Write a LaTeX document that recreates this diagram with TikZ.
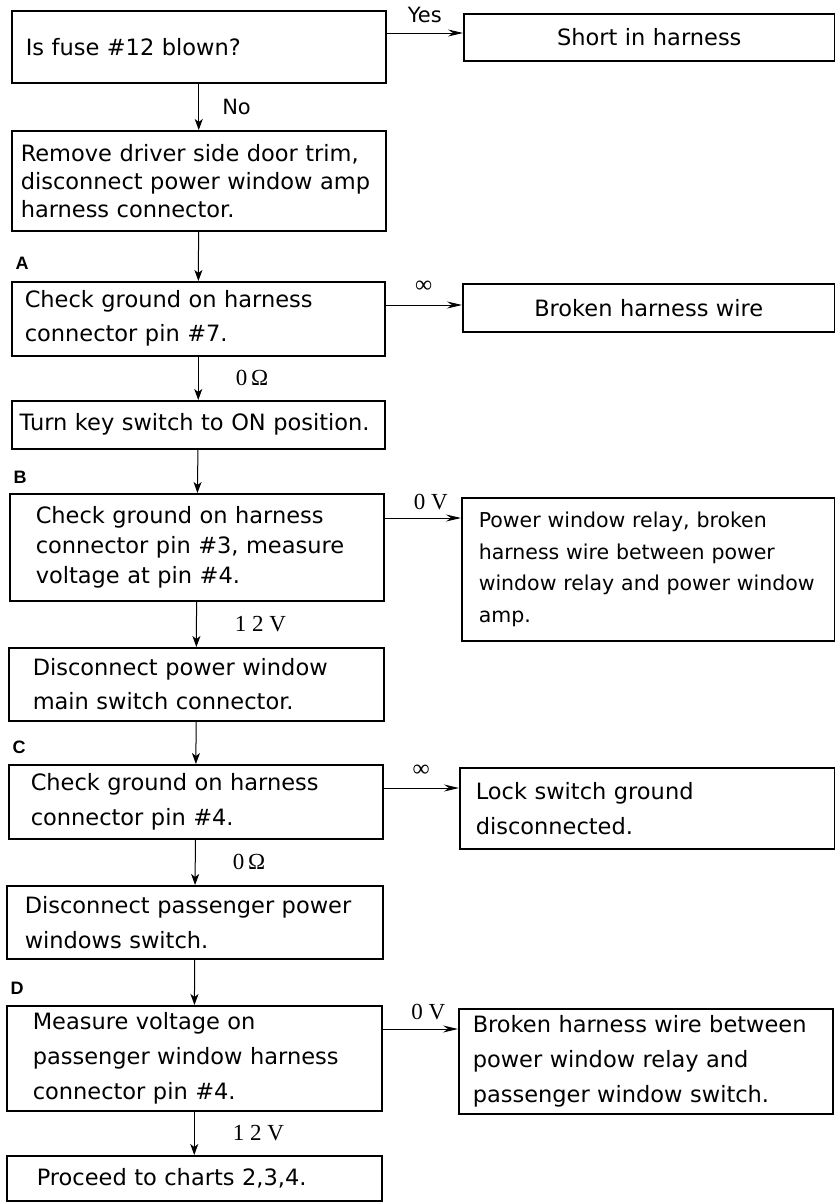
\documentclass[tikz,border=0pt]{standalone}
\usepackage{fontspec}
\setmainfont{DejaVu Sans}
\newfontfamily\valfont{Liberation Serif}
\newfontfamily\tagfont{Liberation Sans}
\usetikzlibrary{arrows.meta,positioning}
\newcommand{\boxfont}[1]{\fontsize{22.5}{#1}\selectfont}

\begin{document}
\begin{tikzpicture}[x=1pt, y=-1pt,
    box/.style={draw, line width=1.5pt, anchor=north west, align=left, inner ysep=0pt, font=\boxfont{#1}},
    box/.default=28,
    cbox/.style={box, align=center, inner xsep=4pt},
    arr/.style={-{Stealth[length=11pt,width=8pt,inset=3pt]}, line width=1pt},
    harr/.style={-{Stealth[length=15pt,width=7pt,inset=5pt]}, line width=1pt},
    ans/.style={inner sep=0pt, font=\fontsize{21}{24}\selectfont},
    val/.style={inner sep=0pt, font=\valfont\fontsize{23}{24}\selectfont},
    inf/.style={inner sep=0pt, font=\valfont\fontsize{24}{24}\selectfont},
    tag/.style={inner sep=0pt, font=\tagfont\bfseries\fontsize{18}{18}\selectfont}]
  \useasboundingbox (0,0) rectangle (835,1202);

  \node[box, inner xsep=14pt, text width=346pt, minimum height=72pt] (fuse) at (11,10) {Is fuse \#12 blown?};
  \node[cbox, text width=363pt, minimum height=47pt] (short) at (463,13) {Short in harness};
  \node[box, inner xsep=9pt, text width=356pt, minimum height=100pt] (trim) at (11,130)
    {Remove driver side door trim,\\ disconnect power window amp\\ harness connector.};
  \node[box=34, inner xsep=13pt, text width=347pt, minimum height=74pt] (chkA) at (11,281)
    {Check ground on harness\\ connector pin \#7.};
  \node[cbox, text width=364pt, minimum height=48pt] (wire) at (462,283) {Broken harness wire};
  \node[box, inner xsep=8pt, text width=357pt, minimum height=48pt] (key) at (11,400) {Turn key switch to ON position.};
  \node[box=30, inner xsep=26pt, text width=322pt, minimum height=107pt] (chkB) at (9,493)
    {Check ground on harness\\ connector pin \#3, measure\\ voltage at pin \#4.};
  \node[box, font=\fontsize{20.5}{31.5}\selectfont, inner xsep=17pt, text width=339pt, minimum height=143pt] (relay) at (461,497)
    {Power window relay, broken\\ harness wire between power\\ window relay and power window\\ amp.};
  \node[box=34, inner xsep=24pt, text width=327pt, minimum height=73pt] (main) at (8,647)
    {Disconnect power window\\ main switch connector.};
  \node[box=35, inner xsep=22pt, text width=330pt, minimum height=74pt] (chkC) at (8,764)
    {Check ground on harness\\ connector pin \#4.};
  \node[box=35, inner xsep=16pt, text width=343pt, minimum height=81pt] (lock) at (459,767)
    {Lock switch ground\\ disconnected.};
  \node[box=35, inner xsep=18pt, text width=340pt, minimum height=73pt] (pass) at (6,885)
    {Disconnect passenger power\\ windows switch.};
  \node[box=35, inner xsep=26pt, text width=323pt, minimum height=105pt] (chkD) at (6,1005)
    {Measure voltage on\\ passenger window harness\\ connector pin \#4.};
  \node[box=35, inner xsep=14pt, text width=346pt, minimum height=105pt] (between) at (458,1008)
    {Broken harness wire between\\ power window relay and\\ passenger window switch.};
  \node[box, inner xsep=30pt, text width=315pt, minimum height=45pt] (proceed) at (6,1155) {Proceed to charts 2,3,4.};

  \node[tag] (tagA) at ([shift={(11,-18)}]chkA.north west) {A};
  \node[tag] (tagB) at ([shift={(11,-16)}]chkB.north west) {B};
  \node[tag] (tagC) at ([shift={(11,-17)}]chkC.north west) {C};
  \node[tag] (tagD) at ([shift={(11,-17)}]chkD.north west) {D};

  \draw[arr] (fuse) -- node[midway, right=23pt, ans]{No} (trim);
  \draw[arr] (trim) -- (chkA);
  \draw[arr] (chkA) -- node[midway, right=37pt, val]{0\,Ω} (key);
  \draw[arr] (key) -- (chkB);
  \draw[arr] (chkB) -- node[midway, right=38pt, val]{1 2 V} (main);
  \draw[arr] (main) -- (chkC);
  \draw[arr] (chkC) -- node[midway, right=37pt, val]{0\,Ω} (pass);
  \draw[arr] (pass) -- (chkD);
  \draw[arr] (chkD) -- node[midway, right=38pt, val]{1 2 V} (proceed);

  \coordinate (yYes) at (0,33);
  \coordinate (yA) at (0,305);
  \coordinate (yB) at (0,518);
  \coordinate (yC) at (0,788);
  \coordinate (yD) at (0,1029);
  \draw[harr] (fuse.east |- yYes) -- node[midway, above=10pt, ans]{Yes} (short.west |- yYes);
  \draw[harr] (chkA.east |- yA) -- node[midway, above=12pt, inf]{∞} (wire.west |- yA);
  \draw[harr] (chkB.east |- yB) -- node[midway, above=8pt, xshift=8pt, val]{0 V} (relay.west |- yB);
  \draw[harr] (chkC.east |- yC) -- node[midway, above=11pt, inf]{∞} (lock.west |- yC);
  \draw[harr] (chkD.east |- yD) -- node[midway, above=9pt, xshift=8pt, val]{0 V} (between.west |- yD);
\end{tikzpicture}
\end{document}
